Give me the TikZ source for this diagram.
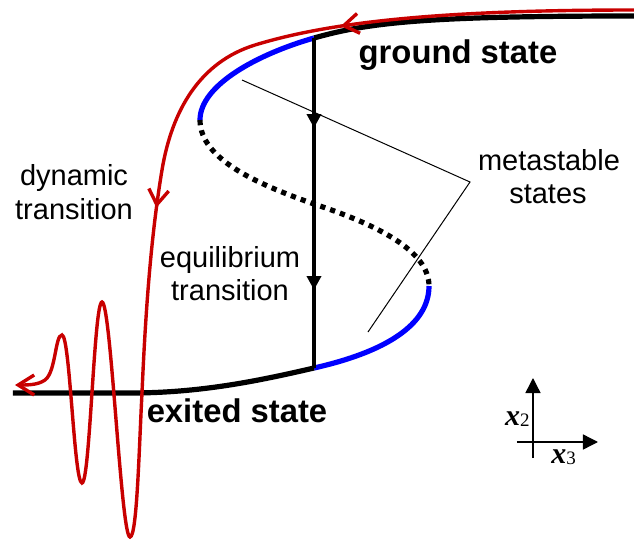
\documentclass[tikz,border=0pt]{standalone}
\usepackage{fontspec}
\setmainfont{Liberation Sans}
\newfontfamily\serifx{Liberation Serif}
\usetikzlibrary{arrows.meta,decorations.markings}
\definecolor{myred}{RGB}{200,0,0}
\definecolor{myblue}{RGB}{0,0,255}
\begin{document}
\begin{tikzpicture}[x=0.5pt,y=-0.5pt,
  bk/.style={black,line width=2.6pt},
  bl/.style={myblue,line width=2.6pt},
  dotline/.style={black,line width=2.6pt,dash pattern=on 2.6pt off 2.6pt},
  vl/.style={black,line width=2.1pt},
  rd/.style={myred,line width=1.7pt},
  leader/.style={black,line width=0.5pt},
  ax/.style={black,line width=0.7pt},
  lbl/.style={font=\fontsize{14.5}{17}\selectfont, anchor=base, inner sep=0pt},
  blbl/.style={font=\fontsize{16.4}{19}\selectfont\bfseries, anchor=base, inner sep=0pt},
  axl/.style={inner sep=0pt},
  vtip/.style={-{Triangle[length=7pt,width=7pt]}},
  rtip/.style={-{Straight Barb[length=8pt,width=10pt]}},
  rmark/.style={postaction=decorate,decoration={markings,mark=at position #1 with {\arrow{Straight Barb[length=7.5pt,width=10pt]}}}}
]
\useasboundingbox (0,0) rectangle (634,541);

% S-shaped equilibrium curve
\coordinate (gR) at (634,16);
\coordinate (gA) at (314,38);
\coordinate (uB) at (200,120);
\coordinate (mid) at (314,204);
\coordinate (lB) at (429,286);
\coordinate (eA) at (314,368);
\coordinate (eK) at (130,393);
\coordinate (eL) at (13,393);

\draw[bk] (gR) .. controls (430,16) and (370,22) .. (gA);
\draw[bl] (gA) .. controls (258,54) and (200,85) .. (uB);
\draw[dotline] (uB) .. controls (200,160) and (260,185) .. (mid) .. controls (375,224) and (429,250) .. (lB);
\draw[bl] (lB) .. controls (429,325) and (385,352) .. (eA);
\draw[bk] (eA) .. controls (258,381) and (200,393) .. (eK) -- (eL);

% equilibrium transition (vertical)
\coordinate (a1) at (314,128);
\coordinate (a2) at (314,290);
\draw[vl] (gA) -- (eA);
\draw[vl,vtip] (gA) -- (a1);
\draw[vl,vtip] (a1) -- (a2);

% leader lines to "metastable states"
\coordinate (p1) at (242,80);
\coordinate (pj) at (470,182);
\coordinate (p2) at (368,332);
\draw[leader] (p1) -- (pj) -- (p2);

% dynamic transition (red)
\coordinate (r0) at (634,10);
\coordinate (r1) at (255,45);
\coordinate (r2) at (162,170);
\coordinate (r3) at (142,393);
\coordinate (r4) at (130,537);
\coordinate (r5) at (102,302);
\coordinate (r6) at (82,483);
\coordinate (r7) at (62,335);
\coordinate (r8) at (45,380);
\coordinate (r9) at (15,385);
\draw[rd,rmark=0.77] (r0) .. controls (440,10) and (330,22) .. (r1);
\draw[rd] (r1) .. controls (200,62) and (172,110) .. (r2);
\draw[rd,rmark=0.17] (r2) .. controls (152,230) and (146,300) .. (r3);
\draw[rd,rtip] (r3) .. controls (139,450) and (137,537) .. (r4)
  .. controls (121,537) and (111,302) .. (r5)
  .. controls (94,302) and (90,483) .. (r6)
  .. controls (74,483) and (70,335) .. (r7)
  .. controls (55,335) and (56,372) .. (r8)
  .. controls (38,385) and (28,385) .. (r9);

% labels
\node[blbl] (ground) at (458,63) {ground state};
\node[blbl] (exited) at (237,422) {exited state};
\node[lbl] (dyn1) at (74,185) {dynamic};
\node[lbl] (dyn2) at (74,219) {transition};
\node[lbl] (eq1) at (230,267) {equilibrium};
\node[lbl] (eq2) at (230,300) {transition};
\node[lbl] (meta1) at (549,170) {metastable};
\node[lbl] (meta2) at (548,203) {states};

% axes
\coordinate (vB) at (533,458);
\coordinate (vT) at (533,378);
\coordinate (hL) at (517,442);
\coordinate (hR) at (598,442);
\draw[ax,-{Triangle[length=7.5pt,width=7.5pt]}] (vB) -- (vT);
\draw[ax,-{Triangle[length=7.5pt,width=7.5pt]}] (hL) -- (hR);
\node[axl,anchor=base east] (x2) at (530,425) {{\serifx\fontsize{15}{17}\selectfont\bfseries\itshape x}{\serifx\fontsize{9.5}{11}\selectfont\raisebox{-0.2ex}{2}}};
\node[axl,anchor=base west] (x3) at (551,463) {{\serifx\fontsize{15}{17}\selectfont\bfseries\itshape x}{\serifx\fontsize{9.5}{11}\selectfont\raisebox{-0.2ex}{3}}};
\end{tikzpicture}
\end{document}
